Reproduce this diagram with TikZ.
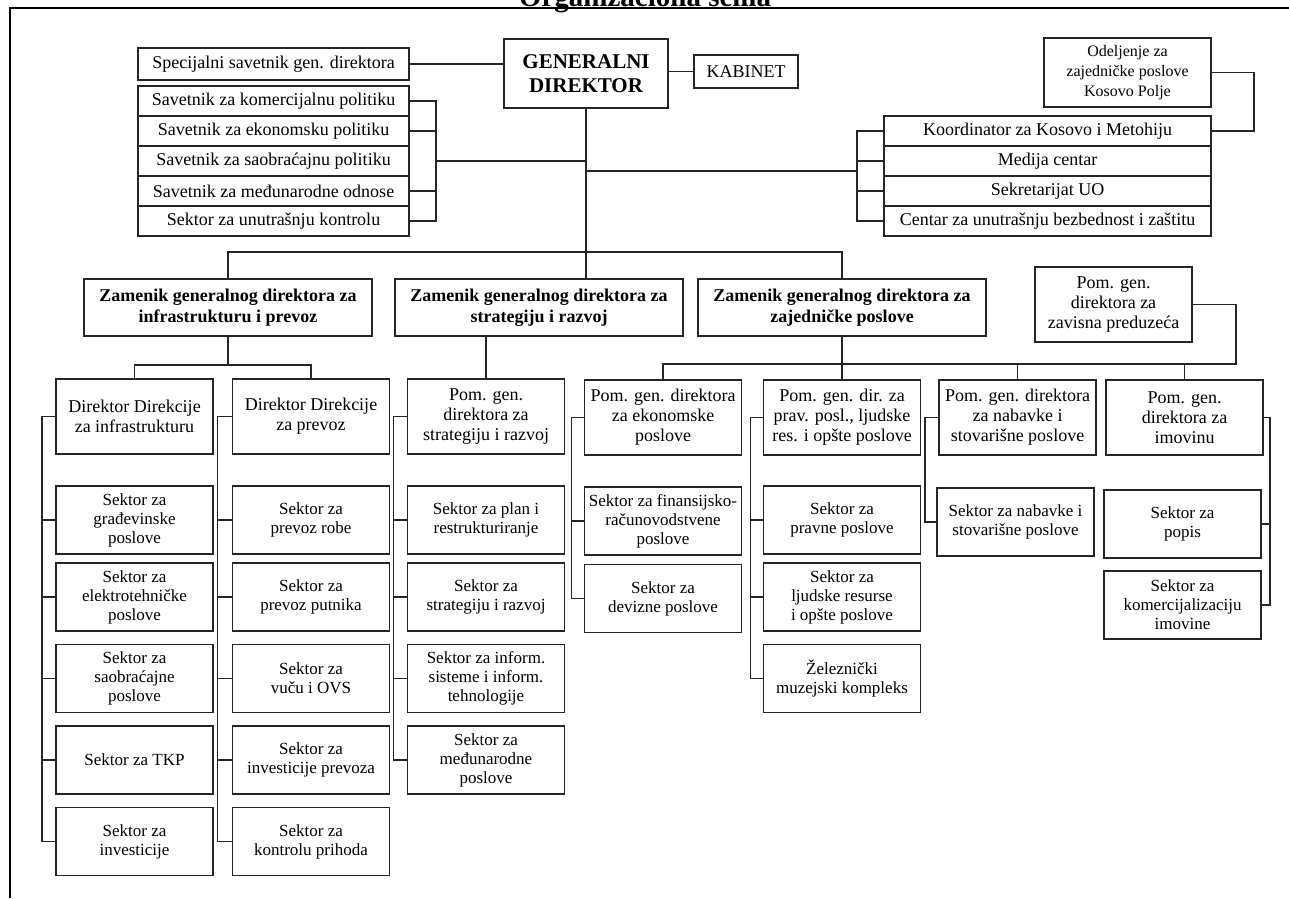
\documentclass[tikz,border=0pt]{standalone}
\usepackage{fontspec}
\setmainfont{Liberation Serif}
\usetikzlibrary{positioning}

\begin{document}
\begin{tikzpicture}[x=1pt,y=-1pt,
  org/.style={draw=black!85,line width=1.8pt,align=center,inner sep=2pt,
    font=\fontsize{18}{20}\selectfont},
  savrow/.style={org,minimum width=271pt,minimum height=30pt,outer sep=0pt},
  korrow/.style={org,minimum width=327pt,minimum height=30pt,outer sep=0pt},
  zamenik/.style={org,minimum width=288pt,minimum height=57pt,
    font=\fontsize{18}{21}\selectfont\bfseries},
  pomocnik/.style={org,minimum width=157pt,minimum height=75pt},
  sektor/.style={org,minimum width=157pt,minimum height=68pt,
    font=\fontsize{17}{19}\selectfont},
  veza/.style={draw=black!85,line width=1.7pt}
]
  \useasboundingbox (0,0) rectangle (1289,898);
  \fill[white] (0,0) rectangle (1289,898);
  % naslov i okvir
  \node[font=\fontsize{29}{30}\selectfont\bfseries,anchor=base,inner sep=0pt] (naslov) at (645,6) {Organizaciona šema};
  \draw[line width=1.9pt] (10,898) -- (10,8) -- (1289,8);

  % Generalni direktor
  \node[org,minimum width=164pt,minimum height=69pt,font=\fontsize{21}{24}\selectfont\bfseries] (gd) at (586,73.5) {GENERALNI\\DIREKTOR};
  \node[org,minimum width=104pt,minimum height=33pt] (kab) at (746,71.5) {KABINET};
  \node[org,minimum width=271pt,minimum height=32pt] (spec) at (273.5,64) {Specijalni savetnik gen. direktora};
  % savetnici
  \node[savrow] (sav1) at (273.5,101) {Savetnik za komercijalnu politiku};
  \node[savrow,below=0pt of sav1] (sav2) {Savetnik za ekonomsku politiku};
  \node[savrow,below=0pt of sav2] (sav3) {Savetnik za saobraćajnu politiku};
  \node[savrow,below=0pt of sav3] (sav4) {Savetnik za međunarodne odnose};
  \node[savrow,below=0pt of sav4] (sav5) {Sektor za unutrašnju kontrolu};
  % Kosovo i Metohija
  \node[org,minimum width=167pt,minimum height=69pt,font=\fontsize{16}{20}\selectfont] (odj) at (1127.5,72.5) {Odeljenje za\\zajedničke poslove\\Kosovo Polje};
  \node[korrow] (kor1) at (1047.5,131) {Koordinator za Kosovo i Metohiju};
  \node[korrow,below=0pt of kor1] (kor2) {Medija centar};
  \node[korrow,below=0pt of kor2] (kor3) {Sekretarijat UO};
  \node[korrow,below=0pt of kor3] (kor4) {Centar za unutrašnju bezbednost i zaštitu};

  % Zamenici
  \node[zamenik] (z1) at (228,307.5) {Zamenik generalnog direktora za\\infrastrukturu i prevoz};
  \node[zamenik] (z2) at (539,307.5) {Zamenik generalnog direktora za\\strategiju i razvoj};
  \node[zamenik] (z3) at (842,307.5) {Zamenik generalnog direktora za\\zajedničke poslove};
  \node[pomocnik] (zav) at (1113.5,304.5) {Pom. gen.\\direktora za\\zavisna preduzeća};

  % Direktori i pomocnici
  \node[pomocnik] (dinf) at (134.5,416.5) {Direktor Direkcije\\za infrastrukturu};
  \node[pomocnik] (dprev) at (311,416.5) {Direktor Direkcije\\za prevoz};
  \node[pomocnik] (pstrat) at (486,416.5) {Pom. gen.\\direktora za\\strategiju i razvoj};
  \node[pomocnik] (pekon) at (663,417.5) {Pom. gen. direktora\\za ekonomske\\poslove};
  \node[pomocnik] (pprav) at (842,417.5) {Pom. gen. dir. za\\prav. posl., ljudske\\res. i opšte poslove};
  \node[pomocnik] (pnab) at (1017.5,417.5) {Pom. gen. direktora\\za nabavke i\\stovarišne poslove};
  \node[pomocnik] (pimov) at (1184.5,417.5) {Pom. gen.\\direktora za\\imovinu};

  % Sektori - infrastruktura
  \node[sektor] (s11) at (134.5,520) {Sektor za\\građevinske\\poslove};
  \node[sektor] (s12) at (134.5,597) {Sektor za\\elektrotehničke\\poslove};
  \node[sektor] (s13) at (134.5,678.5) {Sektor za\\saobraćajne\\poslove};
  \node[sektor] (s14) at (134.5,760) {Sektor za TKP};
  \node[sektor] (s15) at (134.5,841.5) {Sektor za\\investicije};
  % Sektori - prevoz
  \node[sektor] (s21) at (311,520) {Sektor za\\prevoz robe};
  \node[sektor] (s22) at (311,597) {Sektor za\\prevoz putnika};
  \node[sektor] (s23) at (311,678.5) {Sektor za\\vuču i OVS};
  \node[sektor] (s24) at (311,760) {Sektor za\\investicije prevoza};
  \node[sektor] (s25) at (311,841.5) {Sektor za\\kontrolu prihoda};
  % Sektori - strategija
  \node[sektor] (s31) at (486,520) {Sektor za plan i\\restrukturiranje};
  \node[sektor] (s32) at (486,597) {Sektor za\\strategiju i razvoj};
  \node[sektor] (s33) at (486,678.5) {Sektor za inform.\\sisteme i inform.\\tehnologije};
  \node[sektor] (s34) at (486,760) {Sektor za\\međunarodne\\poslove};
  % Sektori - ekonomija
  \node[sektor] (s41) at (663,521) {Sektor za finansijsko-\\računovodstvene\\poslove};
  \node[sektor] (s42) at (663,598.5) {Sektor za\\devizne poslove};
  % Sektori - pravni poslovi
  \node[sektor] (s51) at (842,520) {Sektor za\\pravne poslove};
  \node[sektor] (s52) at (842,597) {Sektor za\\ljudske resurse\\i opšte poslove};
  \node[sektor] (s53) at (842,678.5) {Železnički\\muzejski kompleks};
  % Sektori - nabavke
  \node[sektor] (s61) at (1015.5,522) {Sektor za nabavke i\\stovarišne poslove};
  % Sektori - imovina
  \node[sektor] (s71) at (1182.5,524) {Sektor za\\popis};
  \node[sektor] (s72) at (1182.5,605) {Sektor za\\komercijalizaciju\\imovine};

  % veze oko generalnog direktora
  \coordinate (lb) at (436,161);
  \coordinate (rb) at (857,171);
  \draw[veza] (spec.east) -- (spec.east -| gd.west);
  \draw[veza] (kab.west -| gd.east) -- (kab.west);
  \draw[veza] (gd.south) -- (gd.south |- z2.north);
  \draw[veza] (sav1.east) -| (lb) |- (sav5.east);
  \draw[veza] (sav2.east) -- (sav2.east -| lb);
  \draw[veza] (sav4.east) -- (sav4.east -| lb);
  \draw[veza] (lb) -- (lb -| gd.south);
  \draw[veza] (kor1.west) -| (rb) |- (kor4.west);
  \draw[veza] (kor2.west) -- (kor2.west -| rb);
  \draw[veza] (kor3.west) -- (kor3.west -| rb);
  \draw[veza] (rb) -- (rb -| gd.south);
  \draw[veza] (odj.east) -- ++(42,0) |- (kor1.east);

  % veze zamenika
  \coordinate (zbar) at (586,252);
  \coordinate (z1bar) at (228,365);
  \coordinate (z3bar) at (842,364);
  \draw[veza] (z1.north) |- (zbar) -| (z3.north);
  \draw[veza] (z1.south) -- (z1bar);
  \draw[veza] (dinf.north) |- (z1bar) -| (dprev.north);
  \draw[veza] (z2.south -| pstrat.north) -- (pstrat.north);
  \draw[veza] (z3.south) -- (pprav.north);
  \draw[veza] (pekon.north) |- (z3bar);
  \draw[veza] (zav.east) -- ++(43,0) |- (z3bar);
  \draw[veza] (pnab.north) -- (pnab.north |- z3bar);
  \draw[veza] (pimov.north) -- (pimov.north |- z3bar);

  % veze sektora
  \draw[veza] (dinf.west) -- ++(-13,0) |- (s15.west);
  \draw[veza] (s11.west) -- ++(-13,0) (s12.west) -- ++(-13,0) (s13.west) -- ++(-13,0) (s14.west) -- ++(-13,0);
  \draw[veza] (dprev.west) -- ++(-14,0) |- (s25.west);
  \draw[veza] (s21.west) -- ++(-14,0) (s22.west) -- ++(-14,0) (s23.west) -- ++(-14,0) (s24.west) -- ++(-14,0);
  \draw[veza] (pstrat.west) -- ++(-13,0) |- (s34.west);
  \draw[veza] (s31.west) -- ++(-13,0) (s32.west) -- ++(-13,0) (s33.west) -- ++(-13,0);
  \draw[veza] (pekon.west) -- ++(-12,0) |- (s42.west);
  \draw[veza] (s41.west) -- ++(-12,0);
  \draw[veza] (pprav.west) -- ++(-12,0) |- (s53.west);
  \draw[veza] (s51.west) -- ++(-12,0) (s52.west) -- ++(-12,0);
  \draw[veza] (pnab.west) -- ++(-13,0) |- (s61.west);
  \draw[veza] (pimov.east) -- ++(6,0) |- (s72.east);
  \draw[veza] (s71.east) -- ++(8,0);
\end{tikzpicture}
\end{document}
